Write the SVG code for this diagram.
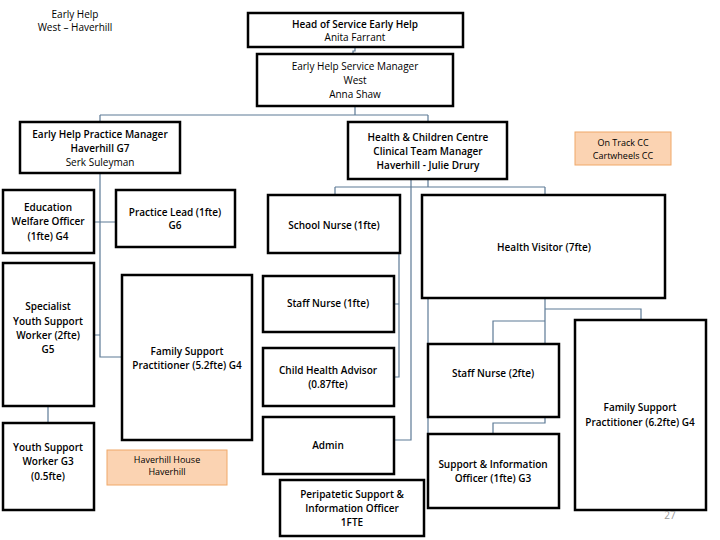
<svg xmlns="http://www.w3.org/2000/svg" width="720" height="540" viewBox="0 0 720 540">
<style>
.b{fill:#fff;stroke:#000;stroke-width:2.5}
.o{fill:#fbd3b2;stroke:#f0a868;stroke-width:1}
text{font-family:"Open Sans","DejaVu Sans",sans-serif;font-size:10px;text-anchor:middle;fill:#000;font-weight:600}
.n{font-weight:normal}
.s{font-size:9px;font-weight:normal}
.c{fill:none;stroke:#5d7a96;stroke-width:1.2}
</style>
<rect width="720" height="540" fill="#fff"/>
<g id="connectors">
<path class="c" d="M355,47V51H353V54"/>
<path class="c" d="M355,106V115M100,115H428M100,115V122M428,115V122"/>
<path class="c" d="M100,173V357H122M94,222H116M94,335H100"/>
<path class="c" d="M48,406V423"/>
<path class="c" d="M411,179V440H394"/>
<path class="c" d="M428,179V187M335,187H545M335,187V195M545,187V195"/>
<path class="c" d="M399,253V377H394M394,304H399"/>
<path class="c" d="M428,298V434"/>
<path class="c" d="M545,298V423H493V434M545,309H641V320M545,321H493V344"/>
</g>
<text class="n" x="75" y="18">Early Help</text>
<text class="n" x="75" y="31">West – Haverhill</text>
<g id="head"><rect class="b" x="248" y="13" width="215" height="34"/><text x="355" y="28">Head of Service Early Help</text><text class="n" x="355" y="41">Anita Farrant</text></g>
<g id="sm"><rect class="b" x="257" y="54" width="196" height="52"/><text class="n" x="355" y="70">Early Help Service Manager</text><text class="n" x="355" y="84">West</text><text class="n" x="355" y="98">Anna Shaw</text></g>
<g id="pm"><rect class="b" x="20" y="122" width="160" height="51"/><text x="100" y="138">Early Help Practice Manager</text><text x="100" y="152">Haverhill G7</text><text class="n" x="100" y="166">Serk Suleyman</text></g>
<g id="hctm"><rect class="b" x="348" y="122" width="159" height="57"/><text x="428" y="141">Health &amp; Children Centre</text><text x="428" y="155">Clinical Team Manager</text><text x="428" y="169">Haverhill - Julie Drury</text></g>
<g id="ontrack"><rect class="o" x="575" y="132" width="96" height="33"/><text class="s" x="623" y="146">On Track CC</text><text class="s" x="623" y="159">Cartwheels CC</text></g>
<g id="ewo"><rect class="b" x="3" y="190" width="91" height="63"/><text x="48" y="211">Education</text><text x="48" y="225">Welfare Officer</text><text x="48" y="240">(1fte) G4</text></g>
<g id="pl"><rect class="b" x="116" y="190" width="119" height="57"/><text x="175" y="216">Practice Lead (1fte)</text><text x="175" y="229">G6</text></g>
<g id="school"><rect class="b" x="268" y="195" width="132" height="58"/><text x="334" y="229">School Nurse (1fte)</text></g>
<g id="hv"><rect class="b" x="422" y="195" width="243" height="103"/><text x="544" y="251">Health Visitor (7fte)</text></g>
<g id="sysw"><rect class="b" x="3" y="263" width="91" height="143"/><text x="48" y="310">Specialist</text><text x="48" y="325">Youth Support</text><text x="48" y="339">Worker (2fte)</text><text x="48" y="353">G5</text></g>
<g id="fsp52"><rect class="b" x="122" y="275" width="130" height="165"/><text x="187" y="355">Family Support</text><text x="187" y="369">Practitioner (5.2fte) G4</text></g>
<g id="sn1"><rect class="b" x="263" y="276" width="131" height="56"/><text x="328" y="307">Staff Nurse (1fte)</text></g>
<g id="cha"><rect class="b" x="263" y="348" width="131" height="58"/><text x="328" y="374">Child Health Advisor</text><text x="328" y="388">(0.87fte)</text></g>
<g id="admin"><rect class="b" x="263" y="417" width="131" height="57"/><text x="328" y="449">Admin</text></g>
<g id="peri"><rect class="b" x="280" y="480" width="144" height="56"/><text x="352" y="498">Peripatetic Support &amp;</text><text x="352" y="512">Information Officer</text><text x="352" y="526">1FTE</text></g>
<g id="sn2"><rect class="b" x="428" y="344" width="131" height="73"/><text x="493" y="377">Staff Nurse (2fte)</text></g>
<g id="sio"><rect class="b" x="428" y="434" width="131" height="74"/><text x="493" y="468">Support &amp; Information</text><text x="493" y="482">Officer (1fte) G3</text></g>
<g id="fsp62"><rect class="b" x="575" y="320" width="131" height="190"/><text x="640" y="411">Family Support</text><text x="640" y="426">Practitioner (6.2fte) G4</text></g>
<g id="ysw"><rect class="b" x="3" y="423" width="91" height="87"/><text x="48" y="451">Youth Support</text><text x="48" y="465">Worker G3</text><text x="48" y="480">(0.5fte)</text></g>
<g id="hh"><rect class="o" x="107" y="450" width="120" height="35"/><text class="s" x="167" y="463">Haverhill House</text><text class="s" x="167" y="475">Haverhill</text></g>
<text class="n" x="670" y="519" style="fill:#999">27</text>
</svg>
